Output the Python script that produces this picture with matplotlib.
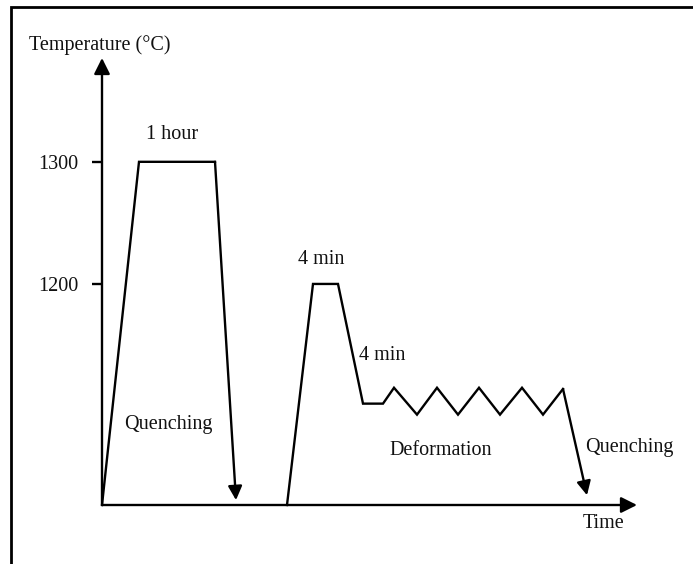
import matplotlib
matplotlib.use("Agg")
import matplotlib.pyplot as plt
from matplotlib.patches import Rectangle

# heat treatment schedule (time in arbitrary units, temperature in degC)
t_solution = [0.0, 3.7, 11.3]
T_solution = [1019, 1300, 1300]
t_quench1 = [11.3, 13.4]
T_quench1 = [1300, 1023]

t_deform = [18.5, 21.1, 23.6, 26.1, 28.1, 29.2, 31.5, 33.5, 35.6,
            37.7, 39.8, 42.0, 44.1, 46.1]
T_deform = [1019, 1200, 1200, 1102, 1102, 1115, 1093, 1115, 1093,
            1115, 1093, 1115, 1093, 1114]
t_quench2 = [46.1, 48.5]
T_quench2 = [1114, 1027]

yticks = [1200, 1300]
ytick_labels = ["1200", "1300"]

# annotations: (text, time, temperature)
labels = [
    ("1 hour", 7.0, 1322),
    ("4 min", 21.9, 1220),
    ("4 min", 28.0, 1141),
    ("Quenching", 6.6, 1085),
    ("Deformation", 33.9, 1064),
    ("Quenching", 52.7, 1066),
]

plt.rcParams['font.family'] = ['Liberation Serif', 'DejaVu Serif']
FS = 14.5
TXT = "#111111"
W, H = 693, 564

fig = plt.figure(figsize=(W / 100, H / 100), dpi=100)
fig.patch.set_facecolor("white")

# outer frame (cut at right and bottom like the scan)
fig.patches.append(Rectangle((11 / W, -0.1), 1.2, 1.1 - 7 / H,
                             transform=fig.transFigure, fill=False,
                             lw=2.0, edgecolor="black"))

ax = fig.add_axes([102 / W, (H - 505) / H, (637 - 102) / W, (505 - 58) / H])
ax.set_xlim(0, 53.5)
ax.set_ylim(1019, 1385)
ax.patch.set_alpha(0)
for s in ax.spines.values():
    s.set_visible(False)

# axes with arrow heads
arrow_kw = dict(arrowstyle='-|>', lw=1.7, color='black', mutation_scale=24,
                shrinkA=0, shrinkB=0)
ax.annotate('', xy=(0, 1), xytext=(0, 0), xycoords='axes fraction',
            arrowprops=arrow_kw, annotation_clip=False)
ax.annotate('', xy=(1, 0), xytext=(0, 0), xycoords='axes fraction',
            arrowprops=arrow_kw, annotation_clip=False)

ax.set_xticks([])
ax.set_yticks(yticks)
ax.set_yticklabels(ytick_labels, fontsize=FS, color=TXT)
ax.tick_params(axis='y', direction='out', length=7, width=1.7, pad=10)

line_kw = dict(color='black', lw=1.7, clip_on=False, solid_joinstyle='miter')
ax.plot(t_solution, T_solution, **line_kw)
ax.plot(t_deform, T_deform, **line_kw)

q_kw = dict(arrowstyle='-|>', lw=1.7, color='black', mutation_scale=21,
            shrinkA=0, shrinkB=0)
ax.annotate('', xy=(t_quench1[1], T_quench1[1]),
            xytext=(t_quench1[0], T_quench1[0]), arrowprops=q_kw)
ax.annotate('', xy=(t_quench2[1], T_quench2[1]),
            xytext=(t_quench2[0], T_quench2[0]), arrowprops=q_kw)

for txt, x, y in labels:
    ax.text(x, y, txt, fontsize=FS, ha='center', va='center', color=TXT)

ax.text(-0.2, 1396, "Temperature (°C)", fontsize=FS, ha='center', va='center',
        color=TXT)
ax.text(50.2, 1004, "Time", fontsize=FS, ha='center', va='center', color=TXT)

fig.savefig("out.png", dpi=100)
